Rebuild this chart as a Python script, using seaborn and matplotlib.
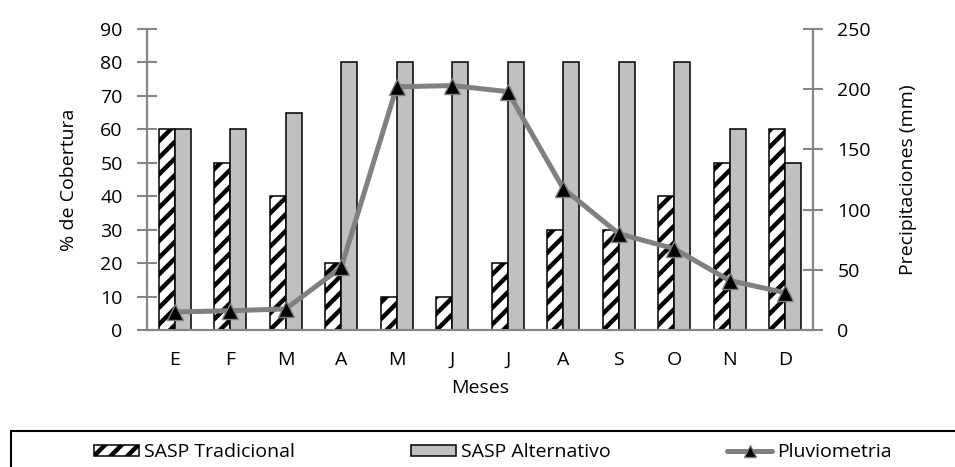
import matplotlib
matplotlib.use("Agg")
import matplotlib.pyplot as plt
import matplotlib.patches as mpatches
from matplotlib.lines import Line2D
import numpy as np
import pandas as pd
import seaborn as sns

# ---------------- data ----------------
meses = ["E", "F", "M", "A", "M", "J", "J", "A", "S", "O", "N", "D"]
sasp_tradicional = [60, 50, 40, 20, 10, 10, 20, 30, 30, 40, 50, 60]
sasp_alternativo = [60, 60, 65, 80, 80, 80, 80, 80, 80, 80, 60, 50]
pluviometria = [15, 16, 17.5, 52, 202, 203, 198, 117.5, 80, 67.5, 41, 31]
series_names = ["SASP Tradicional", "SASP Alternativo", "Pluviometria"]

# ---------------- style ----------------
sns.set_theme(style="white")
plt.rcParams["font.family"] = ["Open Sans", "DejaVu Sans"]
plt.rcParams["hatch.linewidth"] = 3.2
plt.rcParams["text.color"] = "black"
plt.rcParams["axes.labelcolor"] = "black"
plt.rcParams["xtick.color"] = "black"
plt.rcParams["ytick.color"] = "black"
FS = 14
AXC = "#868686"

idx = list(range(len(meses)))
df = pd.DataFrame({
    "mes": idx * 2,
    "valor": sasp_tradicional + sasp_alternativo,
    "serie": [series_names[0]] * len(idx) + [series_names[1]] * len(idx),
})

fig = plt.figure(figsize=(9.55, 4.67), dpi=100)
ax = fig.add_axes([147 / 955, 1 - 330 / 467, (813 - 147) / 955, (330 - 29) / 467])

sns.barplot(data=df, x="mes", y="valor", hue="serie", order=idx,
            hue_order=series_names[:2], palette=["white", "#C0C0C0"],
            edgecolor="black", linewidth=1.1, width=0.58, gap=0,
            legend=False, ax=ax)
for p in ax.containers[0]:
    p.set_hatch("//")

ax.set_ylim(0, 90)
ax.set_yticks(np.arange(0, 91, 10))
ax.set_xlim(-0.5, len(meses) - 0.5)
ax.set_xticks(idx)
ax.set_xticklabels(meses, fontsize=FS)
ax.set_xticks(np.arange(-0.5, len(meses), 1), minor=True)
ax.tick_params(axis="x", which="major", length=0, pad=15, labelcolor="black", labelsize=FS)
ax.tick_params(axis="x", which="minor", length=12, width=1.5, direction="inout", color=AXC)
ax.tick_params(axis="y", which="major", length=15, width=1.5, direction="inout",
               color=AXC, labelcolor="black", labelsize=FS, pad=10, left=True)
ax.set_xlabel("Meses", fontsize=FS, labelpad=7, color="black")
ax.set_ylabel("% de Cobertura", fontsize=FS, labelpad=16, color="black")

ax2 = ax.twinx()
sns.lineplot(x=idx, y=pluviometria, ax=ax2, color="#808080", linewidth=3.6,
             marker="^", markersize=12, markerfacecolor="black",
             markeredgecolor="#808080", markeredgewidth=1.0, legend=False)
ax2.set_ylim(0, 250)
ax2.set_yticks(np.arange(0, 251, 50))
ax2.set_xlim(-0.5, len(meses) - 0.5)
ax2.tick_params(axis="y", which="major", length=15, width=1.5, direction="inout",
                color=AXC, labelcolor="black", labelsize=FS, pad=10, right=True)
ax2.set_ylabel("Precipitaciones (mm)", fontsize=FS, labelpad=20, rotation=90, color="black")
ax2.grid(False)
ax.grid(False)

for a in (ax, ax2):
    for s in ("left", "right", "bottom"):
        a.spines[s].set_visible(True)
        a.spines[s].set_color(AXC)
        a.spines[s].set_linewidth(1.5)
    a.spines["top"].set_visible(False)

# ---------------- legend ----------------
h1 = mpatches.Patch(facecolor="white", edgecolor="black", hatch="//", linewidth=1.1)
h2 = mpatches.Patch(facecolor="#C0C0C0", edgecolor="black", linewidth=1.1)
h3 = Line2D([], [], color="#808080", linewidth=3.6, marker="^", markersize=9,
            markerfacecolor="black", markeredgecolor="#808080")
fig.legend([h1, h2, h3], series_names, loc="center",
           bbox_to_anchor=(493 / 955, 1 - 452 / 467), ncol=3, frameon=False,
           fontsize=FS, handlelength=2.3, handleheight=0.5, handletextpad=0.25,
           columnspacing=6.0, labelcolor="black")
frame = mpatches.Rectangle((11 / 955, -0.05), (975 - 11) / 955, (1 - 431 / 467) + 0.05,
                           transform=fig.transFigure, fill=False, edgecolor="black",
                           linewidth=1.5)
fig.patches.append(frame)

fig.savefig("out.png", dpi=100)
